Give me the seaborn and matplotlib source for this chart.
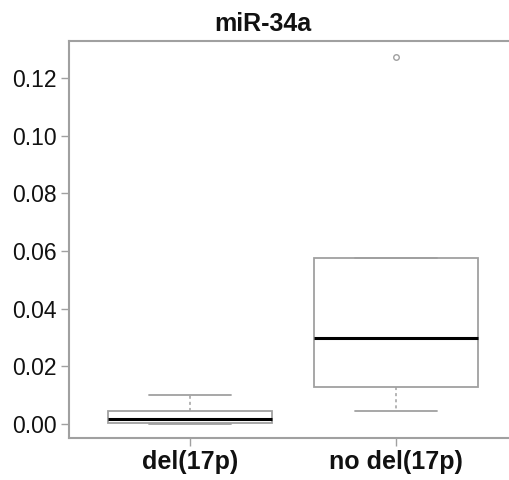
import pandas as pd
import seaborn as sns
import matplotlib.pyplot as plt

groups = ['del(17p)', 'no del(17p)']
del17p_vals = [0.0, 0.0002, 0.0005, 0.0012, 0.0018, 0.003, 0.0045, 0.007, 0.010]
nodel17p_vals = [0.0045, 0.0128, 0.0298, 0.0576, 0.1273]
yticks = [0.00, 0.02, 0.04, 0.06, 0.08, 0.10, 0.12]

df = pd.DataFrame({
    'group': [groups[0]] * len(del17p_vals) + [groups[1]] * len(nodel17p_vals),
    'value': del17p_vals + nodel17p_vals,
})

sns.set_theme(style='white')
plt.rcParams['font.family'] = ['Liberation Sans', 'DejaVu Sans']

W, H = 510, 480
fig = plt.figure(figsize=(W / 100, H / 100), dpi=100)
ax = fig.add_axes([69 / W, 42 / H, (517 - 69) / W, (438 - 41) / H])

grey = '#a0a0a0'
sns.boxplot(data=df, x='group', y='value', order=groups, ax=ax, width=0.8,
            color='white', linecolor=grey, linewidth=1.3,
            whiskerprops=dict(color=grey, linestyle=(0, (2, 2)), linewidth=1.1),
            capprops=dict(color=grey, linewidth=1.3),
            medianprops=dict(color='black', linewidth=2.2),
            flierprops=dict(marker='o', markersize=4, markerfacecolor='none',
                            markeredgecolor=grey, markeredgewidth=1),
            capwidths=0.4)

ax.set_xlim(-0.587, 1.587)
ax.set_ylim(-0.00486, 0.1328)
ax.set_yticks(yticks)
ax.set_yticklabels([f'{t:.2f}' for t in yticks], fontsize=16.5, color='#111111')
ax.set_xticks(range(len(groups)))
ax.set_xticklabels(groups, fontsize=18, fontweight='bold', color='#111111')
ax.set_xlabel('')
ax.set_ylabel('')

for side in ['left', 'top', 'bottom']:
    ax.spines[side].set_color(grey)
    ax.spines[side].set_linewidth(1.5)
ax.spines['right'].set_visible(False)
ax.tick_params(axis='both', direction='out', length=6, width=1, color=grey,
               left=True, bottom=True, pad=3)

fig.text(263 / W, 1 - 24 / H, 'miR-34a', ha='center', va='center',
         fontsize=18, fontweight='bold', color='#111111')

fig.savefig('out.png', dpi=100)
plt.close()
